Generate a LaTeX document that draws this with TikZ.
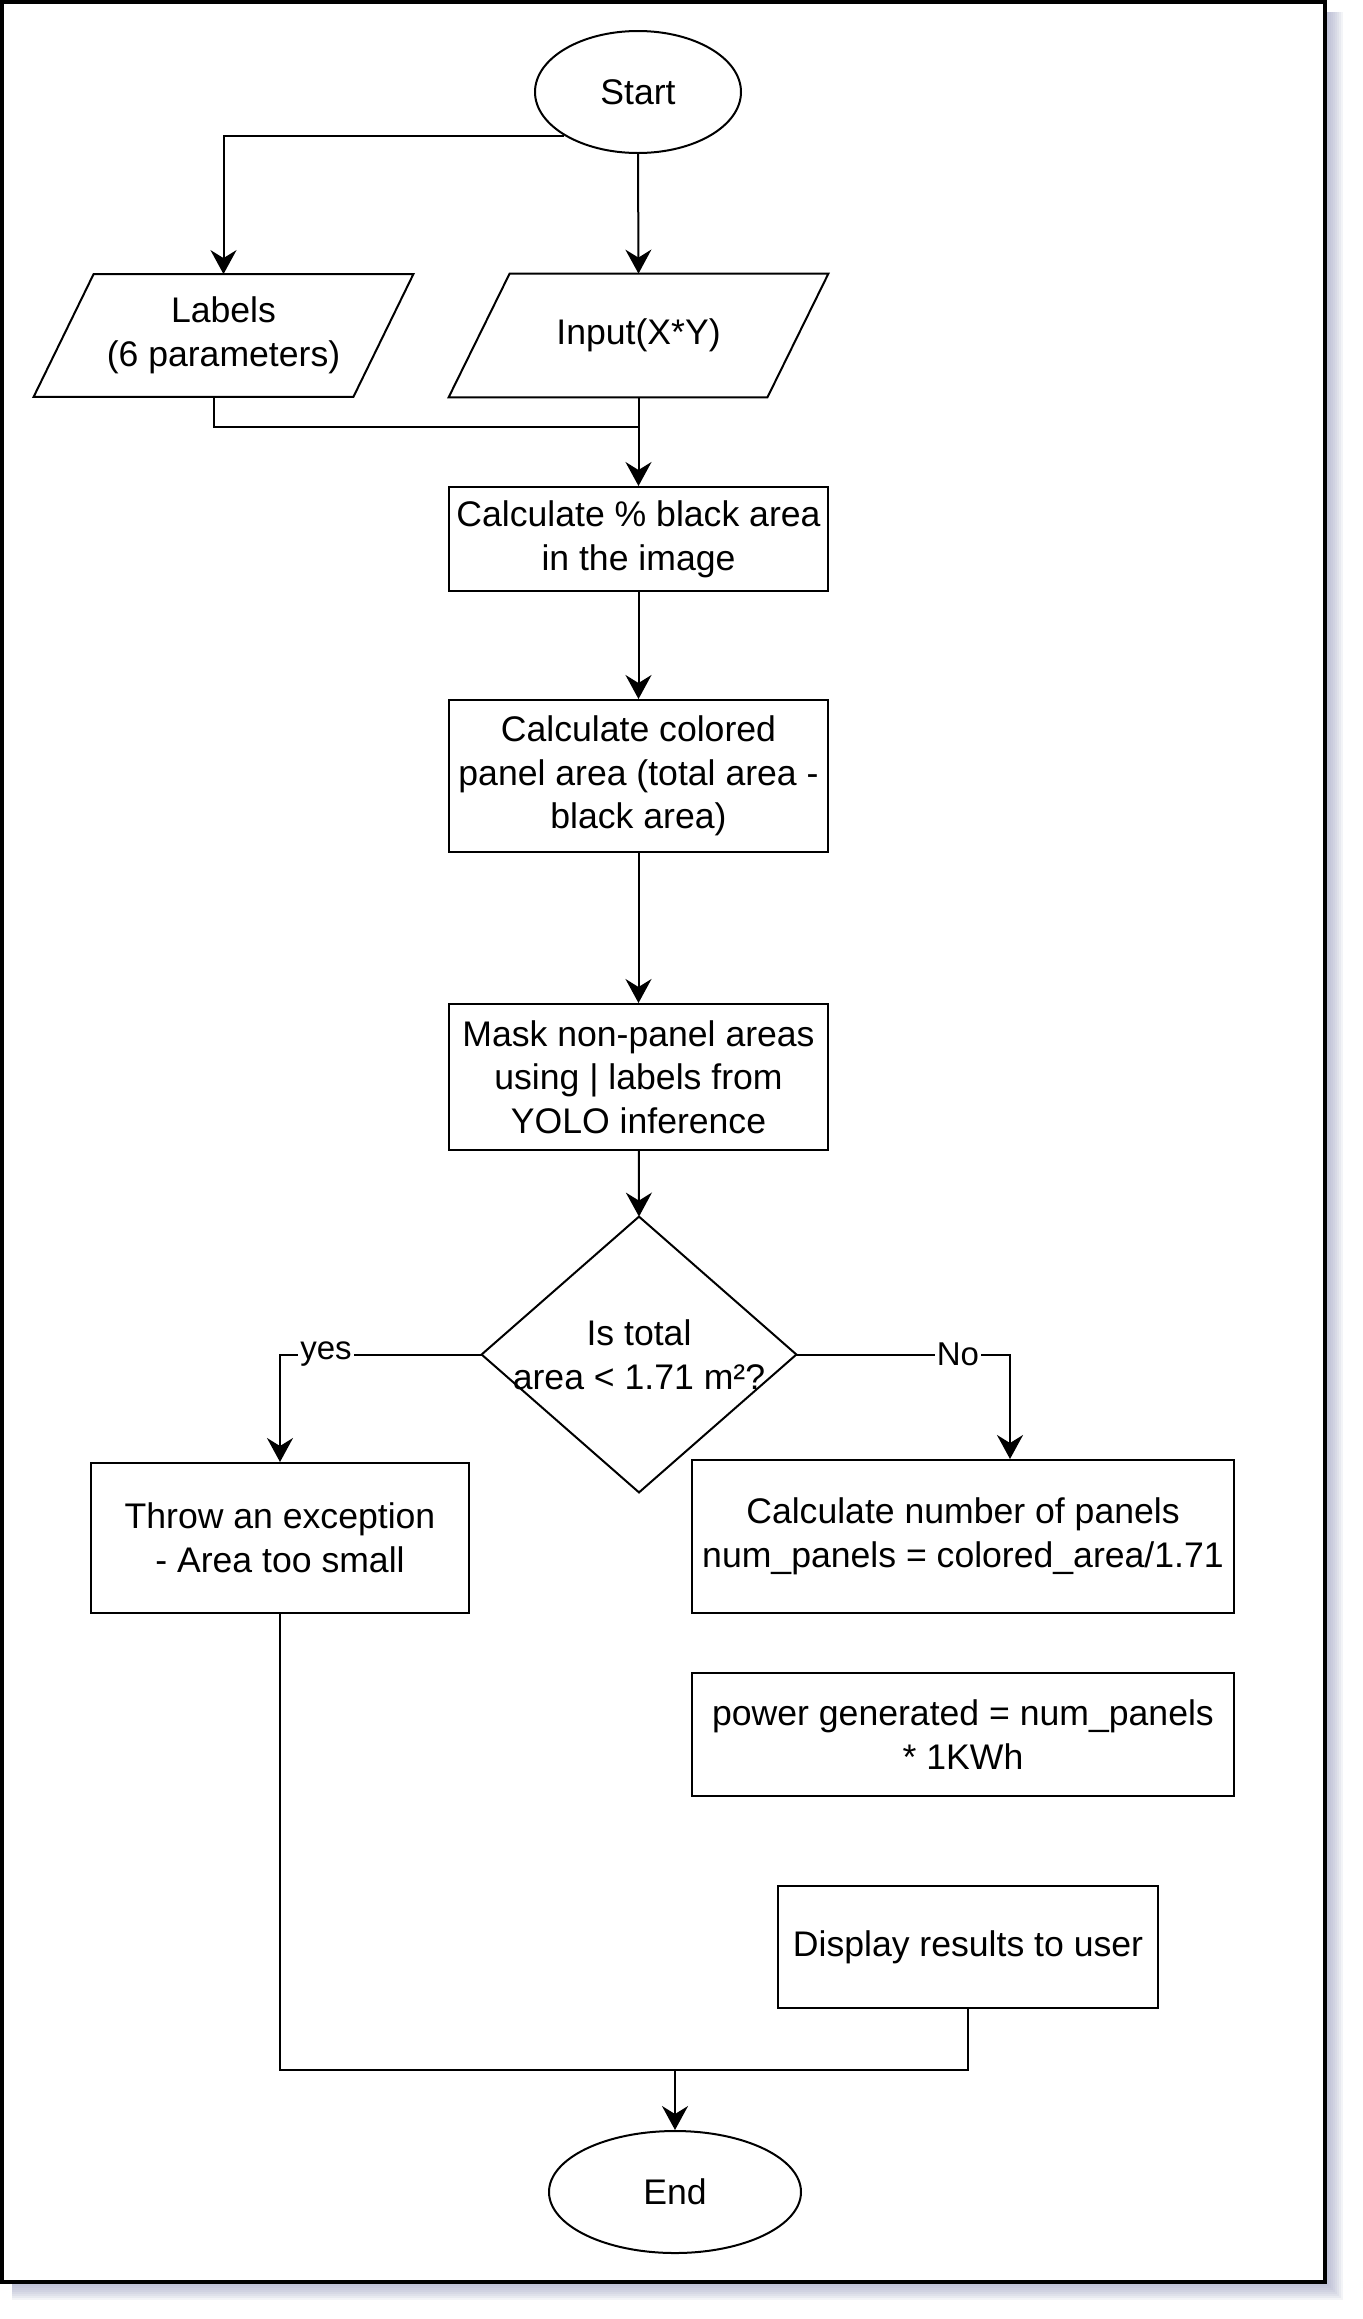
\documentclass[tikz,border=0pt]{standalone}
\usepackage{fontspec}
\setmainfont{Liberation Sans}
\usetikzlibrary{arrows.meta,calc,shapes.geometric}
\definecolor{shadowc}{RGB}{165,170,200}
\begin{document}
\begin{tikzpicture}[x=0.5pt,y=-0.5pt,
  txt/.style={font=\fontsize{17.8}{21.8}\selectfont, align=center, inner sep=0pt},
  ln/.style={line width=1pt, line join=miter},
  arr/.style={ln, -{Stealth[length=12pt,width=13pt,inset=4pt]}},
  box/.style={txt, draw, line width=1pt, rectangle},
  oval/.style={txt, draw, line width=1pt, ellipse},
  hold/.style={txt, rectangle},
  lab/.style={font=\fontsize{16.5}{19}\selectfont, fill=white, inner sep=1pt}
]
\useasboundingbox (0,0) rectangle (1362,2319);
\fill[white] (0,0) rectangle (1362,2319);
% shadow of the frame
\foreach \d in {4,6,...,18}{
  \fill[shadowc, opacity=0.13] (12,12) rectangle (1325+\d,2282+\d);
}
\draw[line width=2pt, fill=white] (1.5,1.5) rectangle (1325,2282);

% nodes
\node[oval, minimum width=103pt, minimum height=61pt] (start) at (638,92) {Start};
\node[hold, minimum width=189.5pt, minimum height=61pt] (labels) at (223.5,335.5) {Labels\\(6 parameters)};
\node[hold, minimum width=189.5pt, minimum height=61.5pt] (input) at (638.5,335.5) {Input(X*Y)};
\node[box, minimum width=189.5pt, minimum height=52pt] (b1) at (638.5,539) {Calculate \% black area\\in the image};
\node[box, minimum width=189.5pt, minimum height=76pt] (b2) at (638.5,776) {Calculate colored\\panel area (total area -\\black area)};
\node[box, minimum width=189.5pt, minimum height=73pt] (b3) at (638.5,1077) {Mask non-panel areas\\using | labels from\\YOLO inference};
\node[hold, minimum width=157pt, minimum height=137.5pt] (dec) at (639,1354.5) {Is total\\area < 1.71 m²?};
\node[box, minimum width=189pt, minimum height=75pt] (throw) at (280,1538) {Throw an exception\\- Area too small};
\node[box, minimum width=271pt, minimum height=76.5pt] (calc) at (963,1536.5) {Calculate number of panels\\num\_panels = colored\_area/1.71};
\node[box, minimum width=271pt, minimum height=61.5pt] (power) at (963,1734.5) {power generated = num\_panels\\* 1KWh};
\node[box, minimum width=190pt, minimum height=61pt] (disp) at (968,1947) {Display results to user};
\node[oval, minimum width=126pt, minimum height=61pt] (end) at (675,2192) {End};

% parallelogram and diamond outlines
\draw[ln] ($(labels.north west)+(60,0)$) -- (labels.north east) -- ($(labels.south east)+(-60,0)$) -- (labels.south west) -- cycle;
\draw[ln] ($(input.north west)+(61,0)$) -- (input.north east) -- ($(input.south east)+(-61,0)$) -- (input.south west) -- cycle;
\draw[ln] (dec.north) -- (dec.east) -- (dec.south) -- (dec.west) -- cycle;

% connectors
\coordinate (j1) at (638.5,427);
\coordinate (j2) at (675,2070);
\draw[arr] (start.south west) -| (labels.north);
\draw[arr] (start.south) -- (input.north);
\draw[ln] ($(labels.south)+(-10,0)$) |- (j1);
\draw[arr] (input.south) -- (b1.north);
\draw[arr] (b1) -- (b2);
\draw[arr] (b2) -- (b3);
\draw[arr] (b3) -- (dec.north);
\draw[arr] (dec.west) -| node[lab, pos=0.386] {yes} (throw.north);
\draw[arr] (dec.east) -| node[lab, pos=0.378] {No} ($(calc.north)+(47,0)$);
\draw[ln] (throw.south) |- (j2) -| (disp.south);
\draw[arr] (j2) -- (end.north);
\end{tikzpicture}
\end{document}
